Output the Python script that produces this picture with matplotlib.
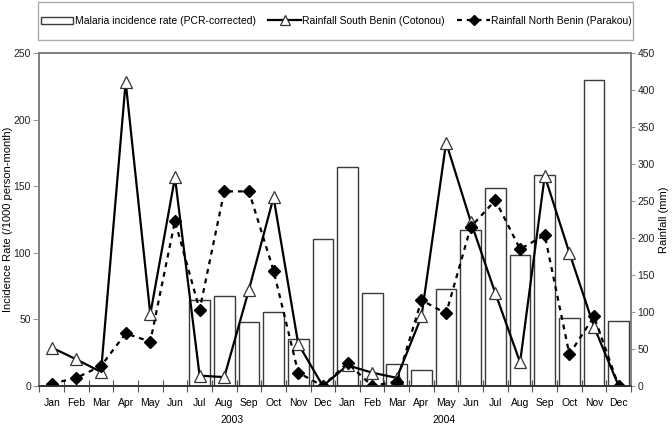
import numpy as np
import matplotlib
matplotlib.use("Agg")
import matplotlib.pyplot as plt
from matplotlib.patches import Patch, Rectangle
from matplotlib.lines import Line2D

plt.rcParams['font.family'] = ['Liberation Sans', 'DejaVu Sans']

months = ['Jan', 'Feb', 'Mar', 'Apr', 'May', 'Jun',
          'Jul', 'Aug', 'Sep', 'Oct', 'Nov', 'Dec'] * 2
years = ['2003', '2004']
year_pos = [7.33, 15.9]

# malaria incidence (/1000 person-month), no data Jan-Jun 2003
incidence = [np.nan, np.nan, np.nan, np.nan, np.nan, np.nan,
             64.6, 67.6, 48.3, 55.3, 35.5, 110.6,
             164.5, 69.6, 16.3, 12.3, 72.6, 116.9,
             148.6, 98.3, 158.2, 50.8, 229.5, 48.6]

# rainfall (mm)
rain_south = [52, 36, 19, 411, 97, 282, 14, 12, 130, 255, 57, 0,
              28, 18, 11, 94, 329, 222, 125, 32, 284, 180, 80, 0]
rain_north = [3, 11, 27, 71, 60, 223, 103, 263, 263, 156, 18, 0,
              31, 0, 6, 116, 98, 215, 251, 185, 204, 43, 94, 0]

x = np.arange(len(months))
fs = 7.5

fig = plt.figure(figsize=(6.72, 4.26), dpi=100)
ax = fig.add_axes([0.0586, 0.0939, 0.8804, 0.7817])
ax2 = ax.twinx()

ax.bar(x, incidence, width=0.84, color='white', edgecolor='#3a3a3a', linewidth=1.0)

south_style = dict(color='black', linewidth=1.6, marker='^', markersize=8.5,
                   markerfacecolor='white', markeredgecolor='#333333', markeredgewidth=0.9)
north_style = dict(color='black', linewidth=1.6, linestyle=(0, (2.2, 2.2)),
                   marker='D', markersize=6.5, markerfacecolor='black', markeredgecolor='black')
ax2.plot(x, rain_south, **south_style)
ax2.plot(x, rain_north, **north_style)

ax.set_xlim(-0.5, 23.5)
ax.set_ylim(0, 250)
ax2.set_ylim(0, 450)

ax.set_yticks(np.arange(0, 251, 50))
ax2.set_yticks(np.arange(0, 451, 50))
ax.set_xticks(x)
ax.set_xticklabels(months, fontsize=fs)
ax.set_xticks(np.arange(-0.5, 24, 1), minor=True)
ax.tick_params(axis='x', which='major', length=0, pad=9)
ax.tick_params(axis='x', which='minor', direction='inout', length=8, width=0.8, color='#555555')
ax.tick_params(axis='y', labelsize=fs, length=4, color='#999999', labelcolor='#222222', pad=2)
ax2.tick_params(axis='y', labelsize=fs, length=3, color='#999999', labelcolor='#222222', pad=1.5)

for a in (ax, ax2):
    for side in ('left', 'right', 'top'):
        a.spines[side].set_color('#808080')
        a.spines[side].set_linewidth(1.2)
    a.spines['bottom'].set_color('#333333')
    a.spines['bottom'].set_linewidth(1.2)

ax.set_ylabel('Incidence Rate (/1000 person-month)', fontsize=8)
ax.yaxis.set_label_coords(-0.045, 0.5)
ax2.set_ylabel('Rainfall (mm)', fontsize=8)
ax2.yaxis.set_label_coords(1.047, 0.5)

for yr, xp in zip(years, year_pos):
    ax.text(xp, -0.102, yr, transform=ax.get_xaxis_transform(),
            ha='center', va='center', fontsize=fs)

# legend box
fig.add_artist(Rectangle((38 / 672, 1 - 40 / 426), 595 / 672, 38 / 426,
                         transform=fig.transFigure, facecolor='white',
                         edgecolor='#aaaaaa', linewidth=1.0))
handles = [
    Patch(facecolor='white', edgecolor='#3a3a3a', linewidth=1.0),
    Line2D([], [], **dict(south_style, markersize=7)),
    Line2D([], [], **dict(north_style, markersize=5.5)),
]
labels = ['Malaria incidence rate (PCR-corrected)',
          'Rainfall South Benin (Cotonou)',
          'Rainfall North Benin (Parakou)']
fig.legend(handles, labels, loc='center', bbox_to_anchor=(0.5008, 0.951),
           ncol=3, fontsize=fs, frameon=False,
           handlelength=3.1, columnspacing=1.2, handletextpad=0.15)

fig.savefig('out.png', dpi=100)
